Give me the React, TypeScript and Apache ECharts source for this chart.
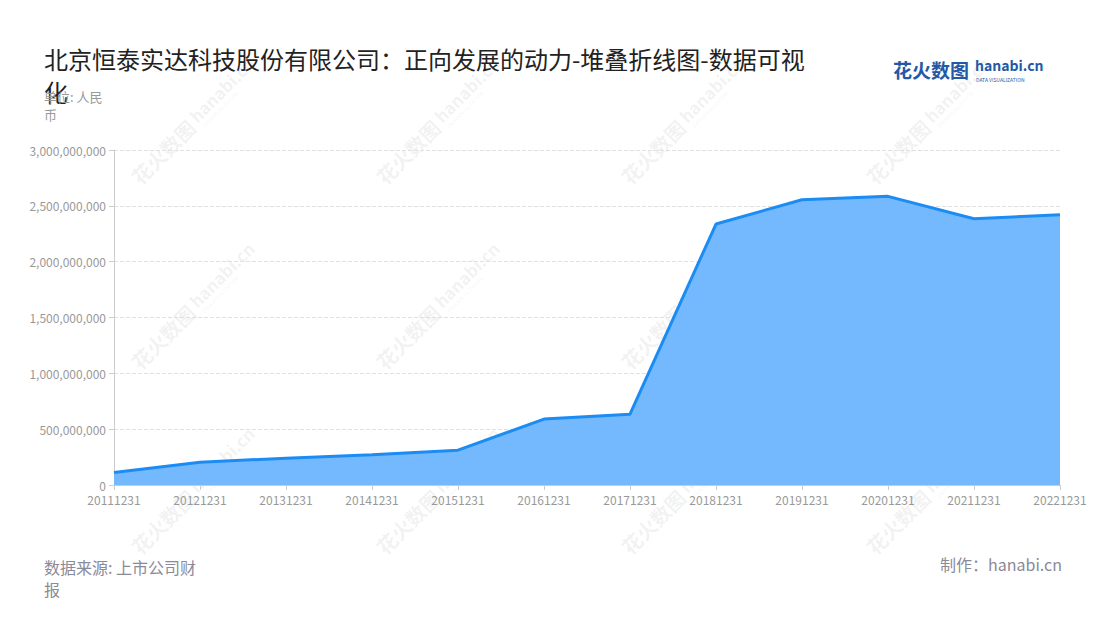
import React, { useEffect, useRef } from "react";
import * as echarts from "echarts";

const categories = [
  "20111231", "20121231", "20131231", "20141231", "20151231", "20161231",
  "20171231", "20181231", "20191231", "20201231", "20211231", "20221231",
];
const values = [
  112000000, 204000000, 240000000, 270000000, 312000000, 590000000,
  634000000, 2337000000, 2555000000, 2585000000, 2385000000, 2420000000,
];
const seriesName = "正向发展的动力";
const titleText = "北京恒泰实达科技股份有限公司：正向发展的动力-堆叠折线图-数据可视化";
const unitText = "单位: 人民币";
const sourceText = "数据来源: 上市公司财报";
const makerText = "制作：hanabi.cn";

const FONT = "'Noto Sans CJK SC', 'Noto Sans', sans-serif";

const wmCols = [190, 435, 680, 925];
const wmRows = [125, 310, 495];

function watermark(cx: number, cy: number) {
  const fill = "rgba(120,120,120,0.10)";
  return {
    type: "group",
    x: cx,
    y: cy,
    rotation: Math.PI / 4,
    silent: true,
    z: 100,
    children: [
      {
        type: "text",
        x: -78,
        y: 0,
        style: { text: "花火数图", fontSize: 20, fontWeight: "bold", fill, fontFamily: FONT, verticalAlign: "middle" },
      },
      {
        type: "text",
        x: 6,
        y: -3,
        style: { text: "hanabi.cn", fontSize: 17, fontWeight: "bold", fill, fontFamily: FONT, verticalAlign: "middle" },
      },
      {
        type: "text",
        x: 8,
        y: 10,
        style: { text: "DATA VISUALIZATION", fontSize: 5, fill, fontFamily: FONT, verticalAlign: "middle" },
      },
    ],
  };
}

export default function App() {
  const ref = useRef<HTMLDivElement>(null);
  useEffect(() => {
    if (!ref.current) return;
    const chart = echarts.init(ref.current, null, { renderer: "svg" });
    const wms: any[] = [];
    wmRows.forEach((r) => wmCols.forEach((c) => wms.push(watermark(c, r))));
    chart.setOption({
      animation: false,
      textStyle: { fontFamily: FONT },
      title: [
        {
          text: titleText,
          left: 39,
          top: 37,
          textStyle: {
            fontSize: 24,
            fontWeight: "normal",
            color: "#222",
            width: 770,
            overflow: "break",
            lineHeight: 33,
            fontFamily: FONT,
          },
        },
        {
          text: unitText,
          left: 39,
          top: 82,
          textStyle: {
            fontSize: 13,
            fontWeight: "normal",
            color: "#999",
            width: 68,
            overflow: "break",
            lineHeight: 18,
            fontFamily: FONT,
          },
        },
        {
          text: sourceText,
          left: 39,
          top: 551,
          textStyle: {
            fontSize: 16,
            fontWeight: "normal",
            color: "#8a8a99",
            width: 165,
            overflow: "break",
            lineHeight: 22,
            fontFamily: FONT,
          },
        },
        {
          text: makerText,
          right: 33,
          top: 551,
          textStyle: {
            fontSize: 16,
            fontWeight: "normal",
            color: "#8a8a99",
            fontFamily: FONT,
          },
        },
      ],
      graphic: [
        {
          type: "text",
          left: 893,
          top: 60,
          style: { text: "花火数图", fontSize: 19, fontWeight: "bold", fill: "#2458a6", fontFamily: FONT },
        },
        {
          type: "text",
          left: 975,
          top: 58,
          style: { text: "hanabi.cn", fontSize: 14, fontWeight: "bold", fill: "#2458a6", fontFamily: FONT },
        },
        {
          type: "text",
          left: 976,
          top: 77,
          style: { text: "DATA VISUALIZATION", fontSize: 5, fill: "#2458a6", fontFamily: FONT },
        },
        ...wms,
      ],
      grid: { left: 114, right: 40, top: 150, bottom: 135, containLabel: false },
      tooltip: { show: false },
      xAxis: {
        type: "category",
        data: categories,
        boundaryGap: false,
        axisLine: { lineStyle: { color: "#ccc" } },
        axisTick: { show: true, alignWithLabel: true, lineStyle: { color: "#ccc" } },
        axisLabel: { color: "#999", fontSize: 12, interval: 0, margin: 8 },
      },
      yAxis: {
        type: "value",
        min: 0,
        max: 3000000000,
        interval: 500000000,
        axisLine: { show: true, lineStyle: { color: "#ccc" } },
        axisTick: { show: true, lineStyle: { color: "#ccc" } },
        axisLabel: {
          color: "#999",
          fontSize: 12,
          formatter: (v: number) => v.toLocaleString("en-US"),
        },
        splitLine: { lineStyle: { type: "dashed", color: "#e0e0e0" } },
      },
      series: [
        {
          name: seriesName,
          type: "line",
          stack: "total",
          data: values,
          showSymbol: false,
          symbol: "none",
          lineStyle: { width: 3, color: "#1c8cf5" },
          itemStyle: { color: "#1c8cf5" },
          areaStyle: { color: "#74b9fd", opacity: 1 },
        },
      ],
    });
    return () => chart.dispose();
  }, []);
  return <div ref={ref} style={{ width: 1100, height: 620, margin: -8 }} />;
}
